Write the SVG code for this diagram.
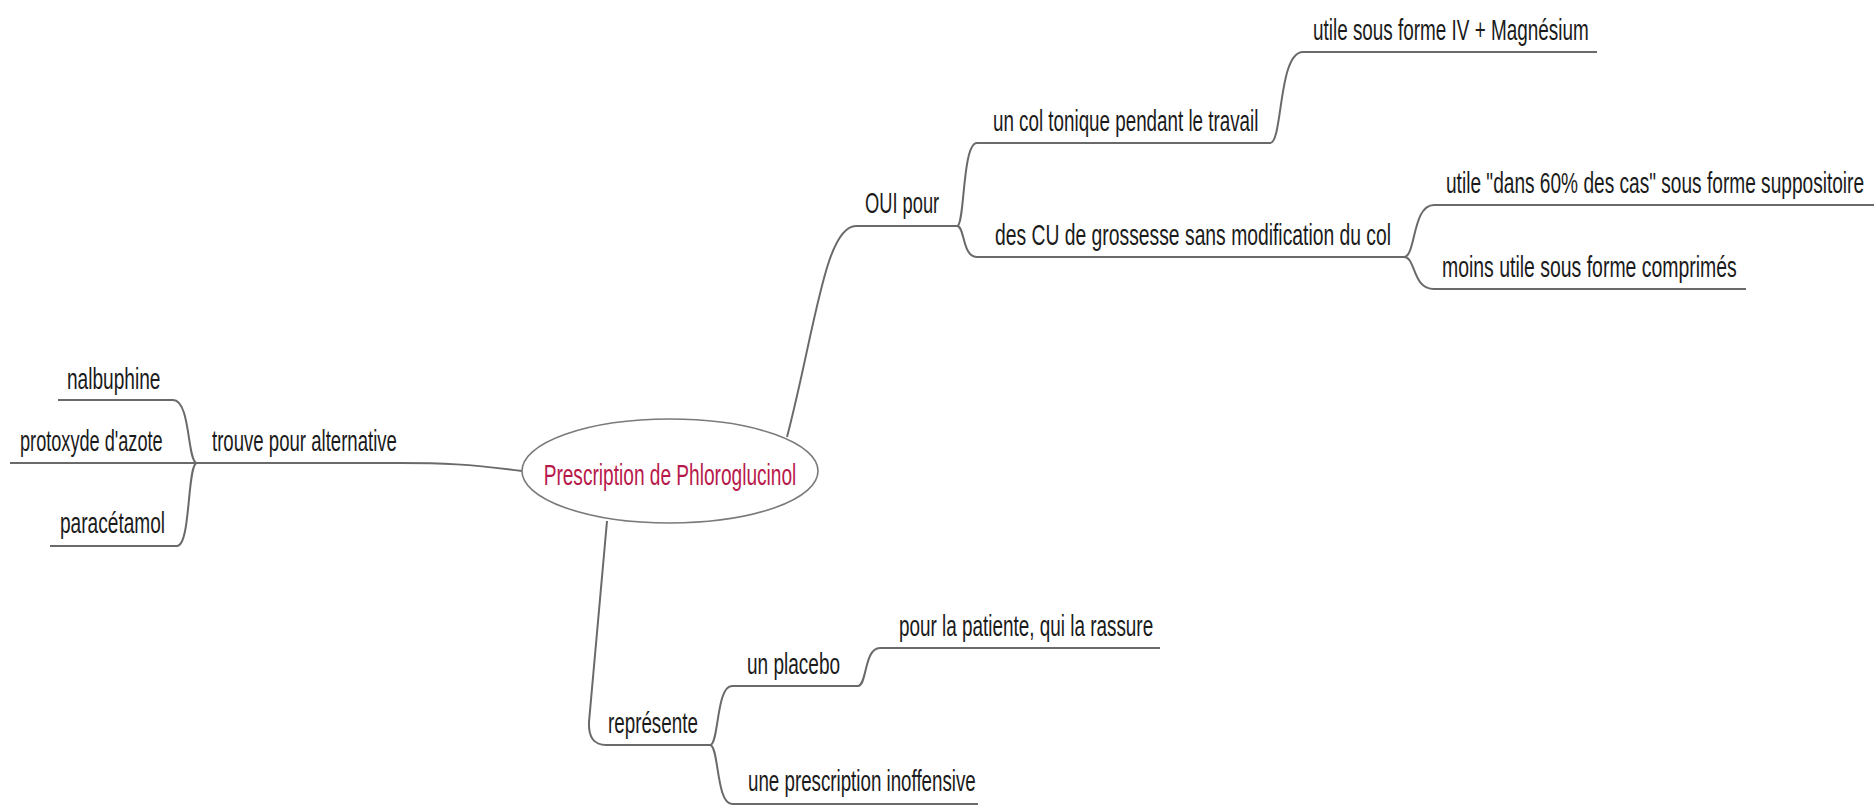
<svg xmlns="http://www.w3.org/2000/svg" width="1874" height="806" viewBox="0 0 1874 806">
<style>
.bg{fill:#ffffff}
.t{font-family:"Liberation Sans",Arial,sans-serif;font-size:30px;fill:#1b1b1b}
.root{font-family:"Liberation Sans",Arial,sans-serif;font-size:30px;fill:#b8194b}
.ul{stroke:#6a6a6a;stroke-width:2;fill:none}
.cn{stroke:#6a6a6a;stroke-width:2;fill:none}
.el{fill:#ffffff;stroke:#7a7a7a;stroke-width:1.6}
</style>
<rect class="bg" x="0" y="0" width="1874" height="806"/>
<g id="connectors">
<path class="cn" d="M522,471 C470,464 440,463 400,463"/>
<path class="cn" d="M197,463 C187,463 191,400 173,400"/>
<path class="cn" d="M197,463 C187,463 191,546 177,546"/>
<path class="cn" d="M787,437 C815,330 825,226 856,226"/>
<path class="cn" d="M957,226 C965,226 962,143 977,143"/>
<path class="cn" d="M957,226 C965,226 962,257 977,257"/>
<path class="cn" d="M1270,143 C1283,143 1278,52 1303,52"/>
<path class="cn" d="M1404,257 C1416,257 1412,205 1434,205"/>
<path class="cn" d="M1404,257 C1416,257 1412,289 1434,289"/>
<path class="cn" d="M607,521 L589,722 Q588,745 606,745"/>
<path class="cn" d="M710,745 C719,745 716,686 732,686"/>
<path class="cn" d="M710,745 C719,745 716,804 732,804"/>
<path class="cn" d="M858,686 C867,686 864,648 880,648"/>
</g>
<g id="root">
<ellipse class="el" cx="670" cy="471" rx="148" ry="52"/>
<text class="root" transform="matrix(0.637 0 0 1 670 485)" text-anchor="middle">Prescription de Phloroglucinol</text>
</g>
<g id="n-trouve">
<line class="ul" x1="197" y1="463" x2="400" y2="463"/>
<text class="t" transform="matrix(0.62 0 0 1 212 451)">trouve pour alternative</text>
</g>
<g id="n-nalbuphine">
<line class="ul" x1="58" y1="400" x2="173" y2="400"/>
<text class="t" transform="matrix(0.637 0 0 1 67 389)">nalbuphine</text>
</g>
<g id="n-protoxyde">
<line class="ul" x1="10" y1="463" x2="197" y2="463"/>
<text class="t" transform="matrix(0.605 0 0 1 20 451)">protoxyde d'azote</text>
</g>
<g id="n-paracetamol">
<line class="ul" x1="50" y1="546" x2="177" y2="546"/>
<text class="t" transform="matrix(0.637 0 0 1 60 533)">paracétamol</text>
</g>
<g id="n-oui">
<line class="ul" x1="856" y1="226" x2="957" y2="226"/>
<text class="t" transform="matrix(0.61 0 0 1 865 213)">OUI pour</text>
</g>
<g id="n-col">
<line class="ul" x1="977" y1="143" x2="1270" y2="143"/>
<text class="t" transform="matrix(0.627 0 0 1 993 131)">un col tonique pendant le travail</text>
</g>
<g id="n-cu">
<line class="ul" x1="977" y1="257" x2="1404" y2="257"/>
<text class="t" transform="matrix(0.644 0 0 1 995 245)">des CU de grossesse sans modification du col</text>
</g>
<g id="n-iv">
<line class="ul" x1="1303" y1="52" x2="1597" y2="52"/>
<text class="t" transform="matrix(0.63 0 0 1 1313 40)">utile sous forme IV + Magnésium</text>
</g>
<g id="n-supp">
<line class="ul" x1="1434" y1="205" x2="1874" y2="205"/>
<text class="t" transform="matrix(0.637 0 0 1 1446 193)">utile "dans 60% des cas" sous forme suppositoire</text>
</g>
<g id="n-comp">
<line class="ul" x1="1434" y1="289" x2="1746" y2="289"/>
<text class="t" transform="matrix(0.648 0 0 1 1442 277)">moins utile sous forme comprimés</text>
</g>
<g id="n-represente">
<line class="ul" x1="606" y1="745" x2="710" y2="745"/>
<text class="t" transform="matrix(0.627 0 0 1 608 733)">représente</text>
</g>
<g id="n-placebo">
<line class="ul" x1="732" y1="686" x2="858" y2="686"/>
<text class="t" transform="matrix(0.634 0 0 1 747 674)">un placebo</text>
</g>
<g id="n-patiente">
<line class="ul" x1="880" y1="648" x2="1160" y2="648"/>
<text class="t" transform="matrix(0.63 0 0 1 899 636)">pour la patiente, qui la rassure</text>
</g>
<g id="n-inoffensive">
<line class="ul" x1="732" y1="804" x2="978" y2="804"/>
<text class="t" transform="matrix(0.625 0 0 1 748 791)">une prescription inoffensive</text>
</g>
</svg>
